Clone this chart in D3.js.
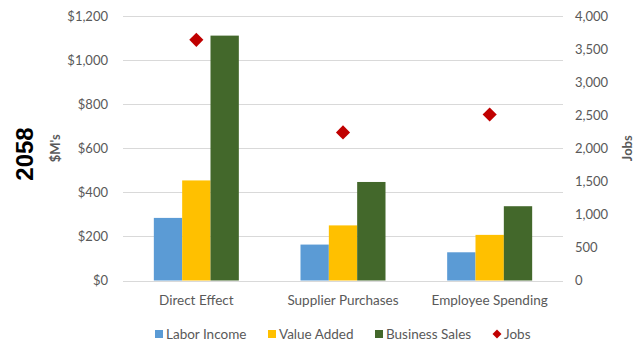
<!DOCTYPE html>
<html><head><meta charset="utf-8">
<script src="https://cdn.jsdelivr.net/npm/d3@7"></script>
<style>body{margin:0;background:#fff}svg{display:block}</style>
</head><body>
<svg id="c" width="638" height="345"></svg>
<script>
const categories = ["Direct Effect", "Supplier Purchases", "Employee Spending"];
const laborIncome = [284, 163, 128];
const valueAdded = [454, 250, 207];
const businessSales = [1111, 447, 337];
const jobs = [3640, 2240, 2510];
const leftTicks = [0, 200, 400, 600, 800, 1000, 1200];
const rightTicks = [0, 500, 1000, 1500, 2000, 2500, 3000, 3500, 4000];
const seriesNames = ["Labor Income", "Value Added", "Business Sales", "Jobs"];
const colors = ["#5B9BD5", "#FFC000", "#43682B", "#C00000"];

const svg = d3.select("#c");
const L = 123, R = 563, T = 16, B = 280.5;
const font = "Lato, 'Open Sans', sans-serif";
const textCol = "#595959";

const x = d3.scaleBand().domain(categories).range([L, R]).paddingInner(0).paddingOuter(0);
const y = d3.scaleLinear().domain([0, 1200]).range([B, T]);
const y2 = d3.scaleLinear().domain([0, 4000]).range([B, T]);
const groupW = 85;
const xs = d3.scaleBand().domain([0,1,2]).range([0, groupW]);

// gridlines
svg.append("g").selectAll("line").data(leftTicks).join("line")
  .attr("x1", L).attr("x2", R)
  .attr("y1", d => Math.round(y(d)) + 0.5).attr("y2", d => Math.round(y(d)) + 0.5)
  .attr("stroke", "#D9D9D9").attr("stroke-width", 1);

// left axis
const la = svg.append("g").attr("transform", `translate(${L},0)`)
  .call(d3.axisLeft(y).tickValues(leftTicks).tickSize(0).tickPadding(15)
    .tickFormat(d => "$" + d3.format(",")(d)));
la.select(".domain").remove();
la.selectAll("text").attr("font-family", font).attr("font-size", 13).attr("fill", textCol);

// right axis
const ra = svg.append("g").attr("transform", `translate(${R},0)`)
  .call(d3.axisRight(y2).tickValues(rightTicks).tickSize(0).tickPadding(12)
    .tickFormat(d3.format(",")));
ra.select(".domain").remove();
ra.selectAll("text").attr("font-family", font).attr("font-size", 13).attr("fill", textCol);

// bars
const barSeries = [laborIncome, valueAdded, businessSales];
barSeries.forEach((vals, si) => {
  svg.append("g").selectAll("rect").data(vals).join("rect")
    .attr("x", (d, i) => x(categories[i]) + x.bandwidth()/2 - groupW/2 + xs(si))
    .attr("width", xs.bandwidth())
    .attr("y", d => y(d))
    .attr("height", d => B - y(d))
    .attr("fill", colors[si]);
});

// jobs diamonds
const sym = d3.symbol(d3.symbolSquare, 100);
svg.append("g").selectAll("path").data(jobs).join("path")
  .attr("d", sym)
  .attr("transform", (d, i) => `translate(${x(categories[i]) + x.bandwidth()/2},${y2(d)}) rotate(45)`)
  .attr("fill", colors[3]);

// category labels
svg.append("g").selectAll("text").data(categories).join("text")
  .attr("x", d => x(d) + x.bandwidth()/2).attr("y", 304.5)
  .attr("text-anchor", "middle")
  .attr("font-family", font).attr("font-size", 13.5).attr("fill", textCol)
  .text(d => d);

// axis titles
svg.append("text").attr("transform", `translate(60,${(T+B)/2}) rotate(-90)`)
  .attr("text-anchor", "middle").attr("font-family", font).attr("font-weight", "bold")
  .attr("font-size", 13).attr("fill", textCol).text("$M's");
svg.append("text").attr("transform", `translate(632,${(T+B)/2}) rotate(-90)`)
  .attr("text-anchor", "middle").attr("font-family", font).attr("font-weight", "bold")
  .attr("font-size", 13).attr("fill", textCol).text("Jobs");
svg.append("text").attr("transform", `translate(33,154) rotate(-90)`)
  .attr("text-anchor", "middle").attr("font-family", "'Liberation Sans', Arial, sans-serif").attr("font-weight", "bold")
  .attr("font-size", 24).attr("fill", "#000").text("2058");

// legend
const legX = [155, 268, 375, 493];
const lg = svg.append("g");
seriesNames.forEach((n, i) => {
  const g = lg.append("g").attr("transform", `translate(${legX[i]},334)`);
  if (i < 3) {
    g.append("rect").attr("x", 0).attr("y", -4).attr("width", 8).attr("height", 8).attr("fill", colors[i]);
  } else {
    g.append("path").attr("d", d3.symbol(d3.symbolSquare, 40)).attr("transform", "translate(4,0) rotate(45)").attr("fill", colors[i]);
  }
  g.append("text").attr("x", 11).attr("y", 4.8)
    .attr("font-family", font).attr("font-size", 13.5).attr("fill", textCol).text(n);
});
</script>
</body></html>
